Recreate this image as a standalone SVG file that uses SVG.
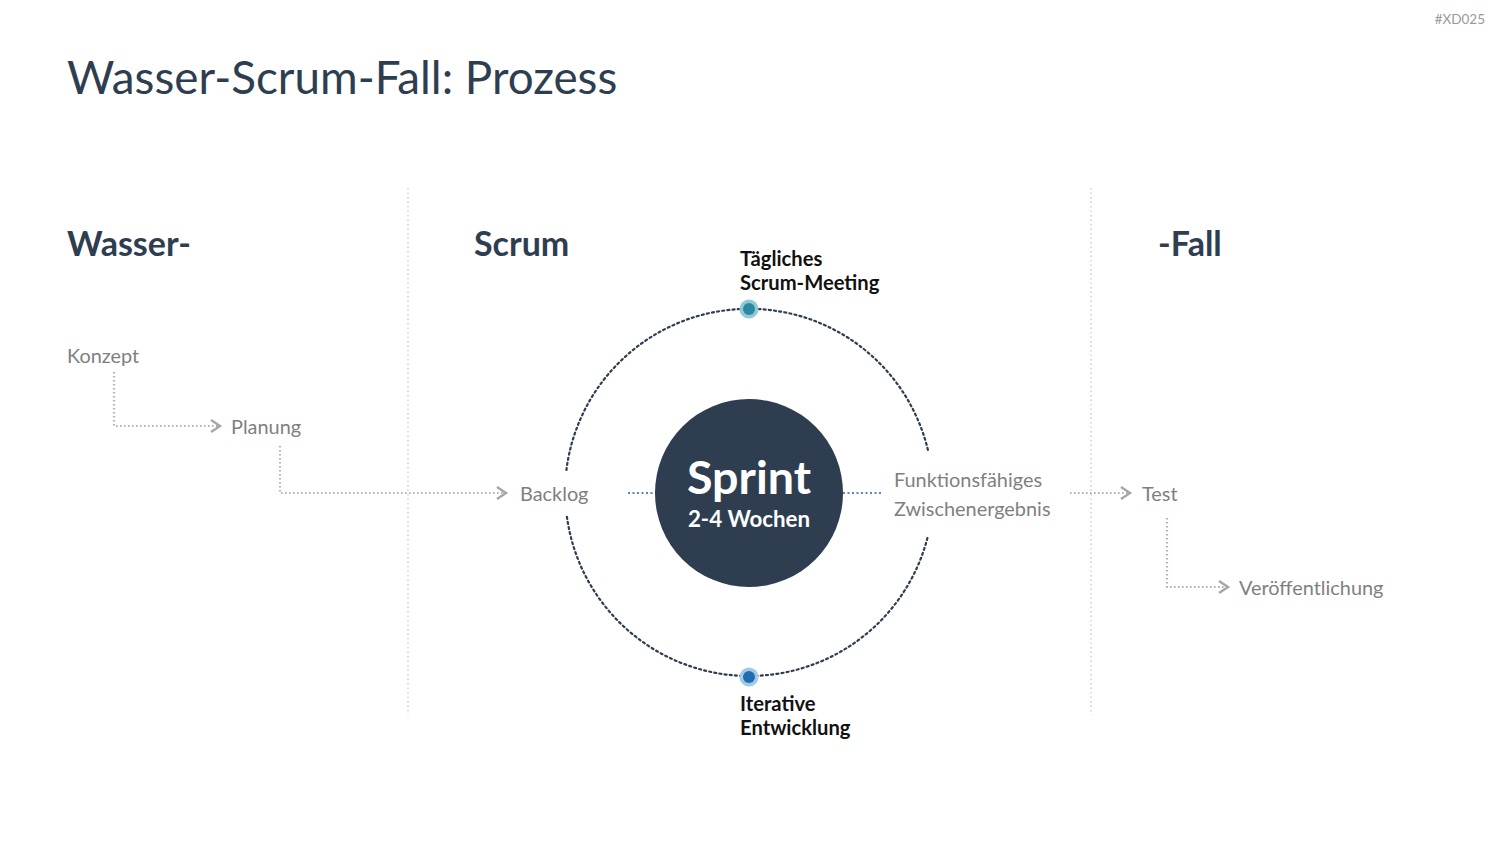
<svg xmlns="http://www.w3.org/2000/svg" width="1500" height="844" viewBox="0 0 1500 844">
<defs>
<style>
text{font-family:Lato,"Open Sans","Liberation Sans",sans-serif}
.gl{fill:none;stroke:#b3b3b3;stroke-width:2.2;stroke-dasharray:1.6 2.4}
.sep{fill:none;stroke:#d0d0d0;stroke-width:1.5;stroke-dasharray:1.5 3}
.orb{fill:none;stroke:#2e3e50;stroke-width:2.2;stroke-dasharray:2 3.2;stroke-linecap:round}
.bl{fill:none;stroke:#5b86b3;stroke-width:2;stroke-dasharray:2 2.5}
.lbl{fill:#7f7f7f;font-size:19.9px}
.hd{fill:#2e3e50;font-size:34px;font-weight:bold}
.nl{fill:#111;font-size:20.2px;font-weight:bold}
.ah{fill:none;stroke:#a6a6a6;stroke-width:2.4}
</style>
</defs>
<rect width="1500" height="844" fill="#fff"/>
<text x="1485" y="24" text-anchor="end" style="fill:#9a9a9a;font-size:13.5px">#XD025</text>
<text x="67" y="94" style="fill:#2e3e50;font-size:45.8px">Wasser-Scrum-Fall: Prozess</text>
<g id="separators">
<line class="sep" x1="408" y1="188" x2="408" y2="715"/>
<line class="sep" x1="1091" y1="188" x2="1091" y2="715"/>
</g>
<g id="headers">
<text class="hd" x="67" y="256">Wasser-</text>
<text class="hd" x="474" y="256">Scrum</text>
<text class="hd" x="1158" y="256">-Fall</text>
</g>
<g id="connectors">
<path class="gl" d="M114,372 V426 H218"/>
<path class="ah" d="M211,420 L220,426 L211,432"/>
<path class="gl" d="M280,446 V493 H504"/>
<path class="ah" d="M497,487 L506,493 L497,499"/>
<path class="gl" d="M1070,493 H1128"/>
<path class="ah" d="M1121,487 L1130,493 L1121,499"/>
<path class="gl" d="M1167,518 V587 H1226"/>
<path class="ah" d="M1219,581 L1228,587 L1219,593"/>
<line class="bl" x1="628" y1="493" x2="656" y2="493"/>
<line class="bl" x1="843" y1="493" x2="881" y2="493"/>
<path class="orb" d="M566.4,470 A184,184 0 0 1 928.4,452"/>
<path class="orb" d="M927.4,538 A184,184 0 0 1 566.7,515"/>
</g>
<g id="konzept"><text class="lbl" x="67" y="363">Konzept</text></g>
<g id="planung"><text class="lbl" x="231" y="434">Planung</text></g>
<g id="backlog"><text class="lbl" x="520" y="501">Backlog</text></g>
<g id="ergebnis"><text class="lbl" x="894" y="487">Funktionsfähiges</text><text class="lbl" x="894" y="516">Zwischenergebnis</text></g>
<g id="test"><text class="lbl" x="1142" y="501">Test</text></g>
<g id="veroeffentlichung"><text class="lbl" x="1239" y="595">Veröffentlichung</text></g>
<g id="sprint">
<circle cx="749" cy="493" r="94" fill="#2e3e50"/>
<text x="749" y="494" text-anchor="middle" style="fill:#fff;font-size:46.6px;font-weight:bold">Sprint</text>
<text x="749" y="527" text-anchor="middle" style="fill:#fff;font-size:22.3px;font-weight:bold">2-4 Wochen</text>
</g>
<g id="meeting">
<circle cx="749" cy="309" r="9.5" fill="#93c8d6"/>
<circle cx="749" cy="309" r="6" fill="#2b8aa1"/>
<text class="nl" x="740" y="266">Tägliches</text>
<text class="nl" x="740" y="290">Scrum-Meeting</text>
</g>
<g id="entwicklung">
<circle cx="749" cy="677" r="9.5" fill="#a3c9e8"/>
<circle cx="749" cy="677" r="6" fill="#1f6db0"/>
<text class="nl" x="740" y="711">Iterative</text>
<text class="nl" x="740" y="735">Entwicklung</text>
</g>
</svg>
